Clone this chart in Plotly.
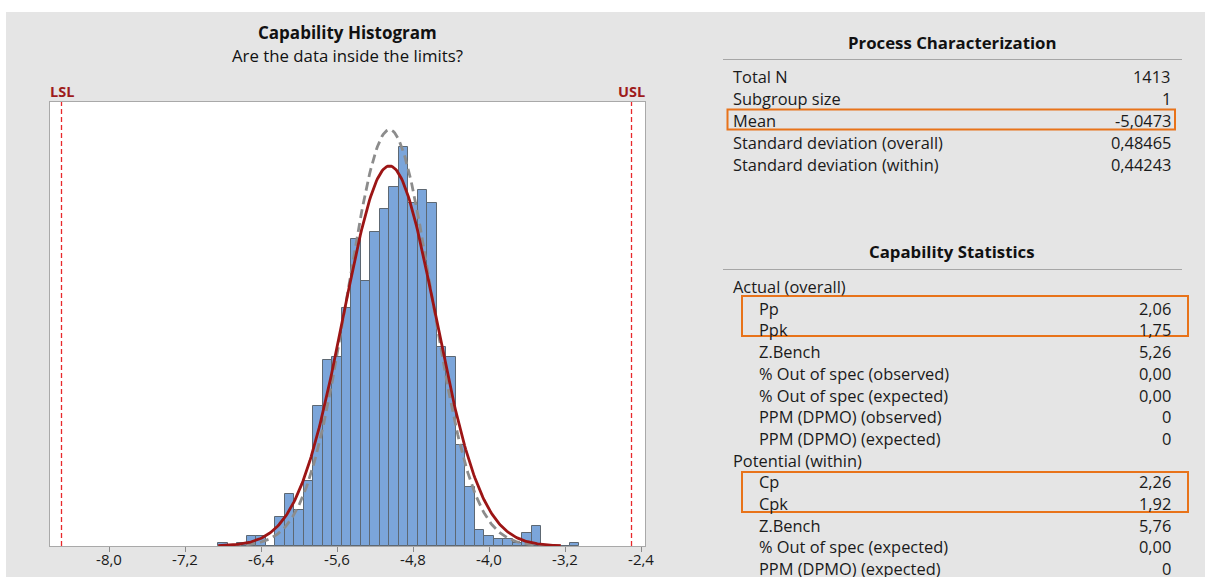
import numpy as np
import plotly.graph_objects as go

# ---------------- data ----------------
bin_centers = [-6.8, -6.7, -6.6, -6.5, -6.4, -6.3, -6.2, -6.1, -6.0, -5.9, -5.8, -5.7,
               -5.6, -5.5, -5.4, -5.3, -5.2, -5.1, -5.0, -4.9, -4.8, -4.7, -4.6, -4.5,
               -4.4, -4.3, -4.2, -4.1, -4.0, -3.9, -3.8, -3.7, -3.6, -3.5, -3.4, -3.3,
               -3.2, -3.1]
bin_counts = [1, 0, 1, 3, 3, 0, 9, 16, 11, 20, 43, 57,
              58, 73, 94, 81, 96, 103, 110, 122, 105, 109, 105, 61,
              58, 31, 18, 5, 3, 2, 2, 1, 4, 6, 0, 0,
              0, 1]
bin_width = 0.1
LSL = -8.5
USL = -2.5
total_n = 1413
mean = -5.0473
sd_overall = 0.48465
sd_within = 0.44243

tick_vals = [-8.0, -7.2, -6.4, -5.6, -4.8, -4.0, -3.2, -2.4]
tick_text = ["-8,0", "-7,2", "-6,4", "-5,6", "-4,8", "-4,0", "-3,2", "-2,4"]

pc_labels = ["Total N", "Subgroup size", "Mean", "Standard deviation (overall)",
             "Standard deviation (within)"]
pc_values = ["1413", "1", "-5,0473", "0,48465", "0,44243"]

cs_labels = ["Actual (overall)", "Pp", "Ppk", "Z.Bench", "% Out of spec (observed)",
             "% Out of spec (expected)", "PPM (DPMO) (observed)", "PPM (DPMO) (expected)",
             "Potential (within)", "Cp", "Cpk", "Z.Bench", "% Out of spec (expected)",
             "PPM (DPMO) (expected)"]
cs_values = ["", "2,06", "1,75", "5,26", "0,00", "0,00", "0", "0",
             "", "2,26", "1,92", "5,76", "0,00", "0"]
cs_indent = [0, 1, 1, 1, 1, 1, 1, 1, 0, 1, 1, 1, 1, 1]

# ---------------- layout helpers ----------------
# the page is rendered slightly narrower than the layout width, so the layout is
# made a little wider and positions are expressed as fractions of the target width
FIG_W, FIG_H = 1213, 577
W, H = 1205, 577
def fx(px):
    return px / W
def fy(py):
    return 1 - py / H

FONT = "Open Sans, Noto Sans, sans-serif"
BG = "#e5e5e5"
ORANGE = "#e8731a"

fig = go.Figure()

fig.add_trace(go.Bar(
    x=bin_centers, y=bin_counts, width=bin_width,
    marker=dict(color="#7ba5da", line=dict(color="#5d6873", width=1)),
    hoverinfo="x+y", showlegend=False,
))

# fitted normal curves (scaled to histogram counts)
xs = np.linspace(mean - 3.72 * sd_overall, mean + 3.72 * sd_overall, 300)
scale = total_n * bin_width
y_within = scale / (sd_within * np.sqrt(2 * np.pi)) * np.exp(-0.5 * ((xs - mean) / sd_within) ** 2)
y_overall = scale / (sd_overall * np.sqrt(2 * np.pi)) * np.exp(-0.5 * ((xs - mean) / sd_overall) ** 2)

fig.add_trace(go.Scatter(x=xs, y=y_within, mode="lines",
                         line=dict(color="#8c8c8c", width=2.8, dash="9px,5px"),
                         showlegend=False, hoverinfo="skip"))
fig.add_trace(go.Scatter(x=xs, y=y_overall, mode="lines",
                         line=dict(color="#9c1515", width=2.8),
                         showlegend=False, hoverinfo="skip"))

shapes = []
# white outer bands
shapes.append(dict(type="rect", xref="paper", yref="paper", x0=-0.01, x1=1.02, y0=fy(12), y1=1,
                   fillcolor="white", line=dict(width=0), layer="below"))
shapes.append(dict(type="rect", xref="paper", yref="paper", x0=-0.01, x1=fx(6), y0=0, y1=1,
                   fillcolor="white", line=dict(width=0), layer="below"))
# spec limit lines
for lim in (LSL, USL):
    shapes.append(dict(type="line", xref="x", yref="y domain", x0=lim, x1=lim, y0=0, y1=1,
                       line=dict(color="#e8282b", width=1.3, dash="5px,3px")))
# separator lines in the right panel
for py in (59.5, 269.5):
    shapes.append(dict(type="line", xref="paper", yref="paper", x0=fx(723), x1=fx(1182),
                       y0=fy(py), y1=fy(py), line=dict(color="#a6a6a6", width=1)))
# orange highlight boxes
for (x0, x1, y0, y1) in [(727.5, 1175, 109.5, 129.5), (742, 1188, 296, 336), (742, 1188, 472, 512)]:
    shapes.append(dict(type="rect", xref="paper", yref="paper", x0=fx(x0), x1=fx(x1),
                       y0=fy(y1), y1=fy(y0), line=dict(color=ORANGE, width=2),
                       fillcolor="rgba(0,0,0,0)"))

ann = []
ann.append(dict(x=fx(347.5), y=fy(33), xref="paper", yref="paper", showarrow=False,
                text="<b>Capability Histogram</b>", font=dict(family=FONT, size=17, color="#111"),
                xanchor="center", yanchor="middle"))
ann.append(dict(x=fx(347.5), y=fy(56), xref="paper", yref="paper", showarrow=False,
                text="Are the data inside the limits?", font=dict(family=FONT, size=16.8, color="#111"),
                xanchor="center", yanchor="middle"))
ann.append(dict(x=LSL, y=fy(91), xref="x", yref="paper", showarrow=False,
                text="<b>LSL</b>", font=dict(family=FONT, size=14.5, color="#9e1b1b"),
                xanchor="center", yanchor="middle"))
ann.append(dict(x=USL, y=fy(91), xref="x", yref="paper", showarrow=False,
                text="<b>USL</b>", font=dict(family=FONT, size=14.5, color="#9e1b1b"),
                xanchor="center", yanchor="middle"))

ann.append(dict(x=fx(952), y=fy(42), xref="paper", yref="paper", showarrow=False,
                text="<b>Process Characterization</b>", font=dict(family=FONT, size=16.8, color="#111"),
                xanchor="center", yanchor="middle"))
ann.append(dict(x=fx(952), y=fy(251.5), xref="paper", yref="paper", showarrow=False,
                text="<b>Capability Statistics</b>", font=dict(family=FONT, size=16.8, color="#111"),
                xanchor="center", yanchor="middle"))

TF = dict(family=FONT, size=16.4, color="#1a1a1a")
for i, (lab, val) in enumerate(zip(pc_labels, pc_values)):
    py = 76 + i * 22
    ann.append(dict(x=fx(731), y=fy(py), xref="paper", yref="paper", showarrow=False,
                    text=lab, font=TF, xanchor="left", yanchor="middle"))
    ann.append(dict(x=fx(1173), y=fy(py), xref="paper", yref="paper", showarrow=False,
                    text=val, font=TF, xanchor="right", yanchor="middle"))

for i, (lab, val, ind) in enumerate(zip(cs_labels, cs_values, cs_indent)):
    py = 286.5 + i * 21.7
    ann.append(dict(x=fx(731 + 26 * ind), y=fy(py), xref="paper", yref="paper", showarrow=False,
                    text=lab, font=TF, xanchor="left", yanchor="middle"))
    if val:
        ann.append(dict(x=fx(1173), y=fy(py), xref="paper", yref="paper", showarrow=False,
                        text=val, font=TF, xanchor="right", yanchor="middle"))

fig.update_layout(
    width=FIG_W, height=FIG_H,
    margin=dict(l=0, r=FIG_W - W, t=0, b=0),
    paper_bgcolor=BG, plot_bgcolor="white",
    bargap=0, showlegend=False,
    shapes=shapes, annotations=ann,
    font=dict(family=FONT),
    xaxis=dict(domain=[fx(50), fx(645)], range=[-8.621, -2.358],
               tickvals=tick_vals, ticktext=tick_text,
               ticks="outside", ticklen=5, tickcolor="#8a8a8a",
               ticklabelstandoff=-5,
               tickfont=dict(family=FONT, size=15, color="#1a1a1a"),
               showgrid=False, zeroline=False,
               showline=True, linecolor="#a9a9a9", linewidth=1, mirror=True),
    yaxis=dict(domain=[fy(546), fy(102)], range=[0, 135.9],
               showticklabels=False, ticks="", showgrid=False, zeroline=False,
               showline=True, linecolor="#a9a9a9", linewidth=1, mirror=True),
)

fig.write_html("out.html")
